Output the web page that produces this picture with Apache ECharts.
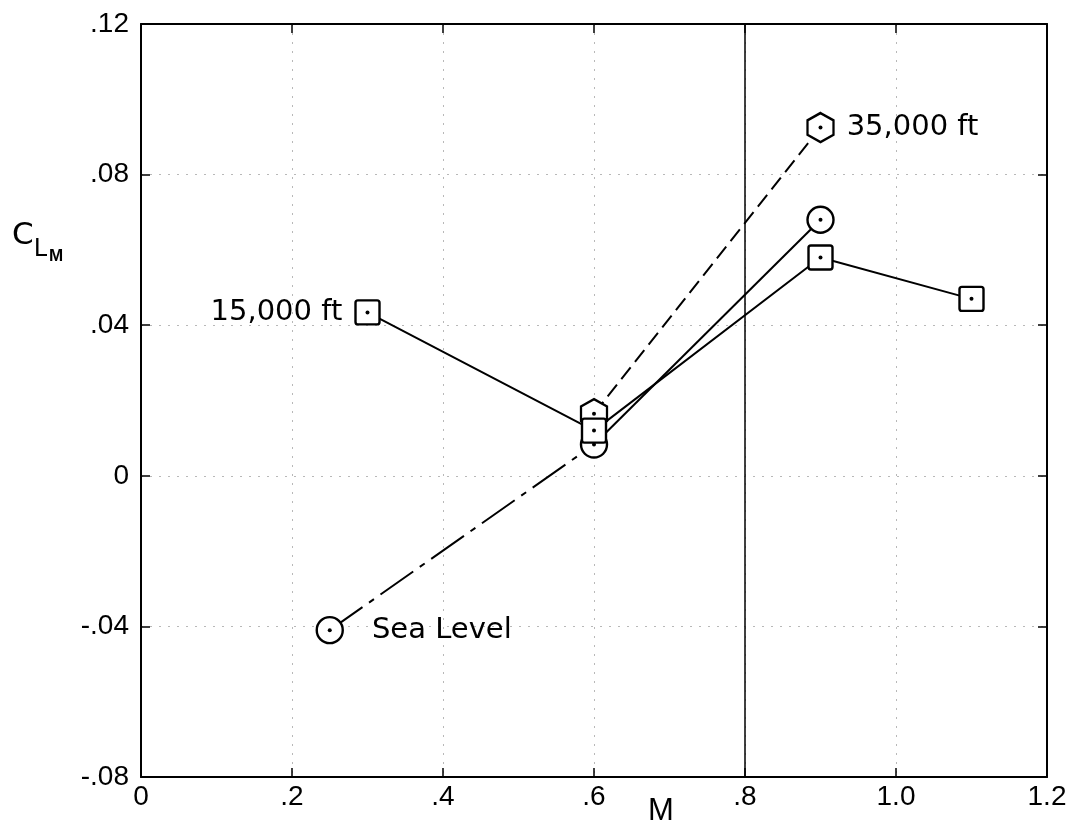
<!DOCTYPE html>
<html>
<head>
<meta charset="utf-8">
<script src="https://cdn.jsdelivr.net/npm/echarts@6/dist/echarts.min.js"></script>
<style>html,body{margin:0;padding:0;background:#fff}#c{width:1079px;height:834px}</style>
</head>
<body>
<div id="c"></div>
<script>
// ---- data ----
const seaLevelM  = [0.25, 0.6, 0.9];
const seaLevelCL = [-0.041, 0.0083, 0.068];
const ft15M  = [0.3, 0.6, 0.9, 1.1];
const ft15CL = [0.0434, 0.012, 0.058, 0.047];
const ft35M  = [0.6, 0.9];
const ft35CL = [0.0165, 0.0925];
const xTickLabels = ['0', '.2', '.4', '.6', '.8', '1.0', '1.2'];
const yTickLabels = ['-.08', '-.04', '0', '.04', '.08', '.12'];
const seriesNames = ['Sea Level', '15,000 ft', '35,000 ft'];

const X_MIN = 0, X_MAX = 1.2, X_INT = 0.2;
const Y_MIN = -0.08, Y_MAX = 0.12, Y_INT = 0.04;

const FONT = 'Liberation Sans';
const LFONT = 'DejaVu Sans';
const zip = (a, b) => a.map((v, i) => [v, b[i]]);
const hexPath = 'path://M0,-10 L8.66,-5 L8.66,5 L0,10 L-8.66,5 L-8.66,-5 Z';
const sqPath = 'path://M-8,-10 L8,-10 Q10,-10 10,-8 L10,8 Q10,10 8,10 L-8,10 Q-10,10 -10,8 L-10,-8 Q-10,-10 -8,-10 Z';

const seaPts = zip(seaLevelM, seaLevelCL);
const f15Pts = zip(ft15M, ft15CL);
const f35Pts = zip(ft35M, ft35CL);

const labelStyle = { fontFamily: LFONT, fontSize: 29, color: '#000' };

const seaData = seaPts.map((p, i) => i === 0
  ? { value: p, label: { show: true, position: 'right', distance: 28, formatter: seriesNames[0], ...labelStyle } }
  : { value: p });
const f15Data = f15Pts.map((p, i) => i === 0
  ? { value: p, label: { show: true, position: 'left', distance: 12, formatter: seriesNames[1], ...labelStyle } }
  : { value: p });
const f35Data = f35Pts.map((p, i) => i === f35Pts.length - 1
  ? { value: p, label: { show: true, position: 'right', distance: 12, formatter: seriesNames[2], ...labelStyle } }
  : { value: p });

const markerStyle = { color: '#fff', borderColor: '#000', borderWidth: 2.4, opacity: 1 };
const allPts = seaPts.concat(f15Pts, f35Pts);

const gridLine = { show: true, lineStyle: { color: '#b8b8b8', width: 1, type: [2, 7] } };
const fmtX = v => xTickLabels[Math.round((v - X_MIN) / X_INT)] ?? '';
const fmtY = v => yTickLabels[Math.round((v - Y_MIN) / Y_INT)] ?? '';
const axLine = { show: true, onZero: false, lineStyle: { color: '#000', width: 2 } };
const axTick = { show: true, inside: true, length: 9, lineStyle: { color: '#000', width: 1.5 } };

const option = {
  backgroundColor: '#fff',
  animation: false,
  grid: { left: 141, right: 32, top: 24, bottom: 57, show: false },
  xAxis: [{
    type: 'value', min: X_MIN, max: X_MAX, interval: X_INT, position: 'bottom',
    axisLine: axLine, axisTick: axTick,
    axisLabel: { formatter: fmtX, fontFamily: FONT, fontSize: 28, color: '#000', margin: 6 },
    splitLine: gridLine
  }, {
    type: 'value', min: X_MIN, max: X_MAX, interval: X_INT, position: 'top',
    axisLine: axLine, axisTick: axTick,
    axisLabel: { show: false }, splitLine: { show: false }
  }],
  yAxis: [{
    type: 'value', min: Y_MIN, max: Y_MAX, interval: Y_INT, position: 'left',
    axisLine: axLine, axisTick: axTick,
    axisLabel: { formatter: fmtY, fontFamily: FONT, fontSize: 28, color: '#000', margin: 12 },
    splitLine: gridLine
  }, {
    type: 'value', min: Y_MIN, max: Y_MAX, interval: Y_INT, position: 'right',
    axisLine: axLine, axisTick: axTick,
    axisLabel: { show: false }, splitLine: { show: false }
  }],
  graphic: [
    { type: 'text', left: 648, top: 796, style: { text: 'M', font: '31px "' + FONT + '"', fill: '#000' } },
    { type: 'text', left: 12, top: 220, style: {
        text: '{c|C}{l|L}{m|M}',
        rich: {
          c: { fontFamily: LFONT, fontSize: 31, fill: '#000', verticalAlign: 'top' },
          l: { fontFamily: LFONT, fontSize: 24, fill: '#000', padding: [14, 0, 0, 0] },
          m: { fontFamily: FONT, fontSize: 17, fontWeight: 'bold', fill: '#000', padding: [28, 0, 0, 2] }
        } } }
  ],
  series: [
    { // reference line at M = .8
      type: 'line', data: [], silent: true,
      markLine: { silent: true, symbol: 'none', label: { show: false },
        lineStyle: { color: '#000', width: 1.5, type: 'solid' }, data: [{ xAxis: 0.8 }] }
    },
    { name: seriesNames[0] + ' low', type: 'line', data: seaPts.slice(0, 2), showSymbol: false, z: 3,
      lineStyle: { color: '#000', width: 2, type: [40, 8, 6, 8] } },
    { name: seriesNames[0] + ' high', type: 'line', data: seaPts.slice(1), showSymbol: false, z: 3,
      lineStyle: { color: '#000', width: 2, type: 'solid' } },
    { name: seriesNames[1], type: 'line', data: f15Pts.map(p => p), showSymbol: false, z: 3,
      lineStyle: { color: '#000', width: 2, type: 'solid' } },
    { name: seriesNames[2], type: 'line', data: f35Pts.map(p => p), showSymbol: false, z: 3,
      lineStyle: { color: '#000', width: 2, type: [15, 7] } },
    { name: '35 markers', type: 'scatter', data: f35Data, symbol: hexPath, symbolSize: [26, 29], z: 4, itemStyle: markerStyle },
    { name: 'sea markers', type: 'scatter', data: seaData, symbol: 'circle', symbolSize: 26, z: 5, itemStyle: markerStyle },
    { name: '15 markers', type: 'scatter', data: f15Data, symbol: sqPath, symbolSize: 24, z: 6, itemStyle: markerStyle },
    { name: 'dots', type: 'scatter', data: allPts, symbol: 'circle', symbolSize: 4, z: 7, itemStyle: { color: '#000', opacity: 1 }, silent: true }
  ]
};

echarts.init(document.getElementById('c'), null, { renderer: 'canvas' }).setOption(option);
</script>
</body>
</html>
